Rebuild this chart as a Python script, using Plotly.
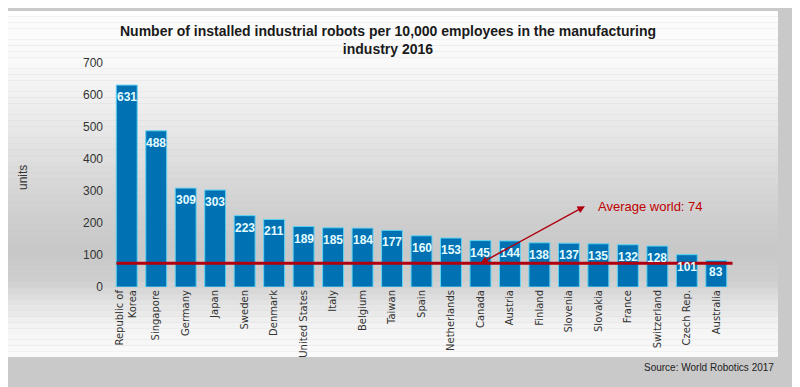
import plotly.graph_objects as go

countries = ["Republic of<br>Korea", "Singapore", "Germany", "Japan", "Sweden", "Denmark",
             "United States", "Italy", "Belgium", "Taiwan", "Spain", "Netherlands", "Canada",
             "Austria", "Finland", "Slovenia", "Slovakia", "France", "Switzerland",
             "Czech Rep.", "Australia"]
robots = [631, 488, 309, 303, 223, 211, 189, 185, 184, 177, 160, 153, 145, 144, 138, 137,
          135, 132, 128, 101, 83]
world_avg = 74
avg_label = "Average world: 74"
y_ticks = [0, 100, 200, 300, 400, 500, 600, 700]

W, H = 800, 387
OFF = 8  # page body margin
L, T = 104, 55
pw, ph = 622, 224
R, B = W - L - pw, H - T - ph

def px2paper_x(px):
    return (px - OFF - L) / pw

def px2paper_y(py):
    return (T + ph - (py - OFF)) / ph

fig = go.Figure()
fig.add_trace(go.Bar(
    x=countries, y=robots,
    marker=dict(color="#0072b4", line=dict(color="#5fd3f3", width=1)),
    hoverinfo="x+y",
))

shapes = []
# panel gradient
stops = [(11, 253), (60, 249), (110, 237), (160, 222), (210, 208), (250, 200), (280, 206),
         (300, 224), (325, 243), (357, 251)]
n = 60
y0p, y1p = 11, 357
for i in range(n):
    a = y0p + (y1p - y0p) * i / n
    b = y0p + (y1p - y0p) * (i + 1) / n
    m = (a + b) / 2
    g = stops[-1][1]
    for (s0, g0), (s1, g1) in zip(stops[:-1], stops[1:]):
        if s0 <= m <= s1:
            g = g0 + (g1 - g0) * (m - s0) / (s1 - s0)
            break
    g = int(round(g))
    shapes.append(dict(type="rect", xref="paper", yref="paper", layer="below",
                       x0=px2paper_x(5), x1=px2paper_x(778),
                       y0=px2paper_y(b), y1=px2paper_y(a),
                       fillcolor=f"rgb({g},{g},{g})", line=dict(width=0)))
# average line
shapes.append(dict(type="line", xref="x", yref="y", x0=-0.35, x1=20.55,
                   y0=world_avg, y1=world_avg, line=dict(color="#b00010", width=3)))

annotations = []
for c, v in zip(countries, robots):
    annotations.append(dict(x=c, y=v, xref="x", yref="y", text=f"<b>{v}</b>",
                            showarrow=False, yanchor="top", yshift=-3,
                            font=dict(family="Liberation Sans, Arial", size=12, color="#e4fcff")))
annotations.append(dict(x=countries[12], y=world_avg, xref="x", yref="y", text="",
                        showarrow=True, arrowhead=2, startarrowhead=2, arrowside="end+start",
                        arrowsize=1, arrowwidth=1.5, arrowcolor="#b00010",
                        axref="pixel", ayref="pixel", ax=106, ay=-58))
annotations.append(dict(x=px2paper_x(596), y=px2paper_y(206), xref="paper", yref="paper",
                        text=avg_label, showarrow=False, xanchor="left", yanchor="middle",
                        font=dict(family="Liberation Sans, Arial", size=13, color="#c00000")))
annotations.append(dict(x=px2paper_x(23), y=px2paper_y(177), xref="paper", yref="paper",
                        text="units", textangle=-90, showarrow=False,
                        xanchor="center", yanchor="middle",
                        font=dict(family="Liberation Sans, Arial", size=12, color="#333333")))
annotations.append(dict(x=px2paper_x(776), y=px2paper_y(367), xref="paper", yref="paper",
                        text="Source: World Robotics 2017", showarrow=False,
                        xanchor="right", yanchor="middle",
                        font=dict(family="Liberation Sans, Arial", size=10,
                                  color="#222222")))

fig.update_layout(
    width=W, height=H,
    margin=dict(l=L, r=R, t=T, b=B),
    paper_bgcolor="#c9c9c9",
    plot_bgcolor="rgba(0,0,0,0)",
    title=dict(text="<b>Number of installed industrial robots per 10,000 employees in the manufacturing<br>industry 2016</b>",
               x=px2paper_x(388), xref="paper", xanchor="center",
               y=1 - (36 - OFF) / H, yanchor="middle",
               font=dict(family="Liberation Sans, Arial", size=14, color="#1a1a1a")),
    bargap=0.29,
    showlegend=False,
    shapes=shapes,
    annotations=annotations,
    xaxis=dict(tickangle=-90, showgrid=False, showline=False, ticks="", automargin=False,
               tickfont=dict(family="DejaVu Sans, Verdana", size=10, color="#333333")),
    yaxis=dict(range=[0, 700], tickvals=y_ticks, showgrid=False, showline=False, ticks="",
               zeroline=False, ticklabelstandoff=8, automargin=False,
               tickfont=dict(family="Liberation Sans, Arial", size=12, color="#333333")),
)

fig.write_html("out.html")
